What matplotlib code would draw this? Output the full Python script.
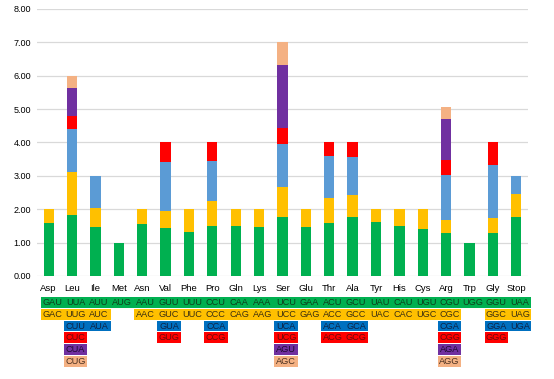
import matplotlib
matplotlib.use("Agg")
import matplotlib.pyplot as plt
from matplotlib.patches import Rectangle

plt.rcParams['font.family'] = ['Liberation Sans', 'DejaVu Sans']

amino = ['Asp', 'Leu', 'Ile', 'Met', 'Asn', 'Val', 'Phe', 'Pro', 'Gln', 'Lys', 'Ser',
         'Glu', 'Thr', 'Ala', 'Tyr', 'His', 'Cys', 'Arg', 'Trp', 'Gly', 'Stop']

# codons per amino acid, in stacking order (bottom -> top)
codons = {
    'Asp': ['GAU', 'GAC'],
    'Leu': ['UUA', 'UUG', 'CUU', 'CUC', 'CUA', 'CUG'],
    'Ile': ['AUU', 'AUC', 'AUA'],
    'Met': ['AUG'],
    'Asn': ['AAU', 'AAC'],
    'Val': ['GUU', 'GUC', 'GUA', 'GUG'],
    'Phe': ['UUU', 'UUC'],
    'Pro': ['CCU', 'CCC', 'CCA', 'CCG'],
    'Gln': ['CAA', 'CAG'],
    'Lys': ['AAA', 'AAG'],
    'Ser': ['UCU', 'UCC', 'UCA', 'UCG', 'AGU', 'AGC'],
    'Glu': ['GAA', 'GAG'],
    'Thr': ['ACU', 'ACC', 'ACA', 'ACG'],
    'Ala': ['GCU', 'GCC', 'GCA', 'GCG'],
    'Tyr': ['UAU', 'UAC'],
    'His': ['CAU', 'CAC'],
    'Cys': ['UGU', 'UGC'],
    'Arg': ['CGU', 'CGC', 'CGA', 'CGG', 'AGA', 'AGG'],
    'Trp': ['UGG'],
    'Gly': ['GGU', 'GGC', 'GGA', 'GGG'],
    'Stop': ['UAA', 'UAG', 'UGA'],
}

# RSCU values, same order as codons
rscu = {
    'Asp': [1.60, 0.40],
    'Leu': [1.83, 1.28, 1.30, 0.39, 0.82, 0.38],
    'Ile': [1.46, 0.57, 0.97],
    'Met': [1.00],
    'Asn': [1.57, 0.43],
    'Val': [1.45, 0.49, 1.49, 0.57],
    'Phe': [1.32, 0.68],
    'Pro': [1.50, 0.76, 1.19, 0.55],
    'Gln': [1.50, 0.50],
    'Lys': [1.48, 0.52],
    'Ser': [1.78, 0.90, 1.26, 0.50, 1.87, 0.69],
    'Glu': [1.48, 0.52],
    'Thr': [1.60, 0.75, 1.25, 0.40],
    'Ala': [1.77, 0.65, 1.14, 0.44],
    'Tyr': [1.63, 0.37],
    'His': [1.50, 0.50],
    'Cys': [1.41, 0.59],
    'Arg': [1.28, 0.41, 1.34, 0.44, 1.22, 0.36],
    'Trp': [1.00],
    'Gly': [1.30, 0.44, 1.59, 0.67],
    'Stop': [1.76, 0.69, 0.55],
}

bar_colors = ['#00B050', '#FFC000', '#5B9BD5', '#FF0000', '#7030A0', '#F4B183']
cell_colors = ['#00B050', '#FFC000', '#0070C0', '#FF0000', '#7030A0', '#F4B183']
text_colors = ['#0F3D1C', '#3A2E10', '#0E2244', '#6A0A0A', '#1E0A30', '#4A3020']

fig = plt.figure(figsize=(5.54, 3.79), dpi=100)
ax = fig.add_axes([0.0668, 0.2718, 0.8862, 0.7045])

for i, aa in enumerate(amino):
    bottom = 0
    for k, v in enumerate(rscu[aa]):
        ax.bar(i, v, width=0.44, bottom=bottom, color=bar_colors[k], zorder=3)
        bottom += v

ax.set_xlim(-0.5, len(amino) - 0.5)
ax.set_ylim(0, 8)
ax.set_yticks(range(0, 9))
ax.set_yticklabels(['%.2f' % t for t in range(0, 9)], fontsize=6.5)
ax.set_xticks(range(len(amino)))
ax.set_xticklabels(amino, fontsize=6.8)
ax.tick_params(length=0, pad=6)
ax.tick_params(axis='y', pad=17)
for lbl in ax.get_yticklabels():
    lbl.set_horizontalalignment('left')
ax.grid(axis='y', color='#D9D9D9', linewidth=0.9, zorder=0)
for s in ax.spines.values():
    s.set_visible(False)

# codon table below the chart
tab = fig.add_axes([0.0668 + 3.5 / 554, 1 - 367 / 379, 0.8862, 70.3 / 379])
tab.set_xlim(-0.5, len(amino) - 0.5)
tab.set_ylim(6, 0)
tab.axis('off')
for i, aa in enumerate(amino):
    for k, c in enumerate(codons[aa]):
        tab.add_patch(Rectangle((i - 0.5, k + 0.04), 1, 0.92, facecolor=cell_colors[k],
                                edgecolor='none'))
        tab.text(i, k + 0.52, c, ha='center', va='center', fontsize=6.6,
                 color=text_colors[k])

fig.savefig('out.png', dpi=100)
